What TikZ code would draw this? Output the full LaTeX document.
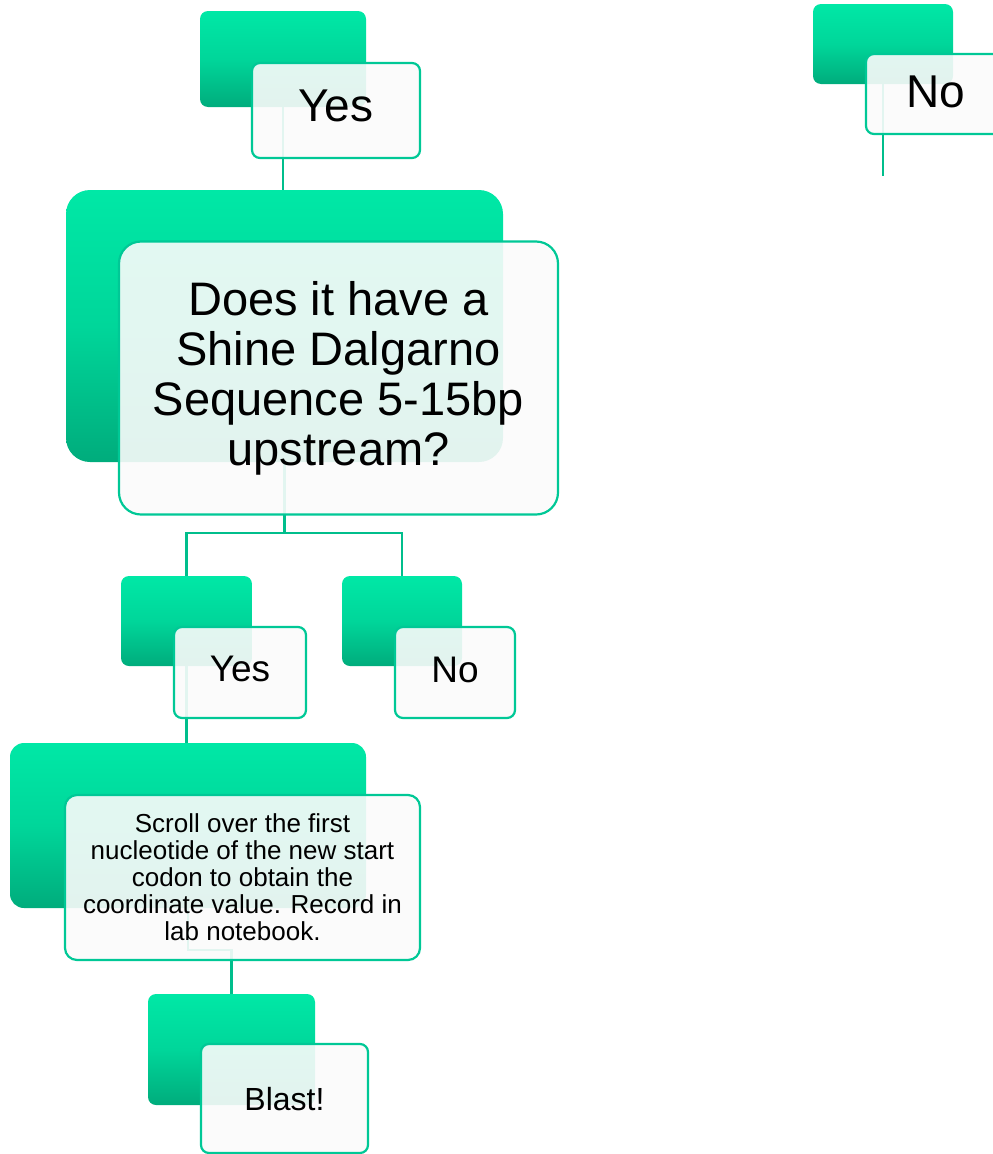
\documentclass[tikz,border=0pt]{standalone}
\usepackage{fontspec}
\setmainfont{Liberation Sans}
\definecolor{gtop}{RGB}{0,232,166}
\definecolor{gmid}{RGB}{0,214,154}
\definecolor{gbot}{RGB}{0,172,124}
\definecolor{edge}{RGB}{0,200,150}
\definecolor{wirec}{RGB}{0,190,140}
\definecolor{paper}{RGB}{251,251,251}
\begin{document}
\begin{tikzpicture}[x=1pt,y=-1pt,
  gbox/.style={rectangle, draw=none, top color=gtop, bottom color=gbot, middle color=gmid, inner sep=0pt},
  wbox/.style={rectangle, draw=edge, line width=2.2pt, fill=paper, fill opacity=0.9, text opacity=1,
               inner sep=0pt, align=center, text=black},
  wire/.style={draw=wirec, line width=2.4pt},
  big/.style={font=\fontsize{46}{50}\selectfont},
  mid/.style={font=\fontsize{37}{40}\selectfont},
  small/.style={font=\fontsize{26}{27}\selectfont},
]
\useasboundingbox (0,0) rectangle (993,1154);
\clip (0,0) rectangle (993,1154);

% coloured back panels
\node[gbox, minimum width=166, minimum height=96, rounded corners=8] (gY1) at (283,59) {};
\node[gbox, minimum width=140, minimum height=80, rounded corners=8] (gN1) at (883,44) {};
\node[gbox, minimum width=437, minimum height=272, rounded corners=24] (gQ) at (284.5,326) {};
\node[gbox, minimum width=131, minimum height=90, rounded corners=8] (gY2) at (186.5,621) {};
\node[gbox, minimum width=120, minimum height=90, rounded corners=8] (gN2) at (402,621) {};
\node[gbox, minimum width=356, minimum height=165, rounded corners=14] (gS) at (188,825.5) {};
\node[gbox, minimum width=167, minimum height=111, rounded corners=8] (gB) at (231.5,1049.5) {};

% connectors
\coordinate (tailN) at (883,176);
\draw[wire] (gY1.south) -- (gY1.south |- gQ.north);
\draw[wire] (gN1.south) -- (tailN);
\draw[wire] (gQ.south) -- ++(0,71) -| (gY2.north);
\draw[wire] (gQ.south) -- ++(0,71) -| (gN2.north);
\draw[wire] (gY2.south) -- (gY2.south |- gS.north);
\draw[wire] (gS.south) -- ++(0,42) -| (gB.north);

% text panels
\node[wbox, big, minimum width=168, minimum height=95, rounded corners=8, text depth=10pt] (wY1) at (336,110.5) {Yes};
\node[wbox, big, minimum width=140, minimum height=80, rounded corners=8, text depth=4pt] (wN1) at (936,94) {No};
\node[wbox, font=\fontsize{47}{50}\selectfont, minimum width=439, minimum height=273, rounded corners=22] (wQ) at (338.5,378)
  {Does it have a\\Shine Dalgarno\\Sequence 5-15bp\\upstream?};
\node[wbox, mid, minimum width=132, minimum height=91, rounded corners=8, text depth=7pt] (wY2) at (240,672.5) {Yes};
\node[wbox, mid, minimum width=120, minimum height=91, rounded corners=8, text depth=5pt] (wN2) at (455,672.5) {No};
\node[wbox, small, minimum width=355, minimum height=165, rounded corners=12] (wS) at (242.5,877.5)
  {Scroll over the first\\nucleotide of the new start\\codon to obtain the\\coordinate value. Record in\\lab notebook.};
\node[wbox, font=\fontsize{32}{34}\selectfont, minimum width=167, minimum height=109, rounded corners=8, text depth=0pt] (wB) at (284.5,1098.5) {Blast!};
\end{tikzpicture}
\end{document}
